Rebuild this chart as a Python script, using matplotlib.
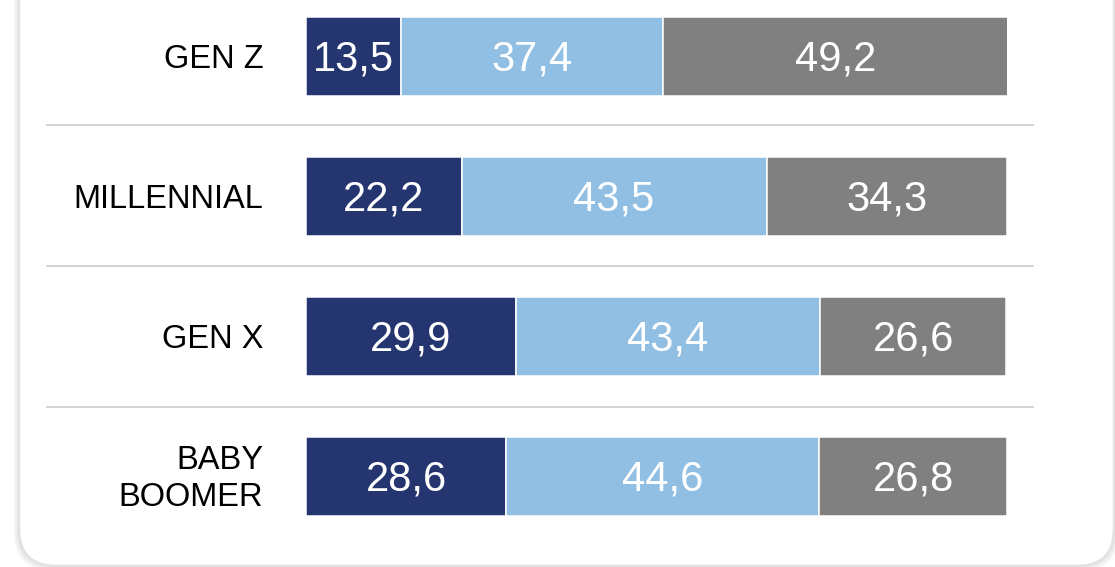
import numpy as np
import matplotlib.pyplot as plt
from matplotlib.patches import FancyBboxPatch

# data
groups = ['GEN Z', 'MILLENNIAL', 'GEN X', 'BABY\nBOOMER']
seg1 = [13.5, 22.2, 29.9, 28.6]
seg2 = [37.4, 43.5, 43.4, 44.6]
seg3 = [49.2, 34.3, 26.6, 26.8]
colors = ['#24356f', '#91bfe3', '#808080']

plt.rcParams['font.family'] = ['Liberation Sans', 'DejaVu Sans']

W, H = 1115, 567
fig = plt.figure(figsize=(W / 100, H / 100), dpi=100)
fig.patch.set_facecolor('white')

# background card with soft shadow, drawn in pixel units
bg = fig.add_axes([0, 0, 1, 1], zorder=0)
bg.set_xlim(0, W)
bg.set_ylim(0, H)
bg.axis('off')
for k in range(6):
    bg.add_patch(FancyBboxPatch((20 - k * 0.5, 2 - k * 0.5), 1093 + k * 1.0, 640,
                                boxstyle='round,pad=0,rounding_size=36',
                                facecolor='none', edgecolor='#000000',
                                alpha=0.025, linewidth=1 + k))
bg.add_patch(FancyBboxPatch((20, 2), 1093, 640,
                            boxstyle='round,pad=0,rounding_size=36',
                            facecolor='white', edgecolor='#ececec', linewidth=0.5))

# main chart axes: x 0..100 maps to pixels 306..1007
ax = fig.add_axes([306 / W, 0, 701 / W, 1], zorder=1)
ax.patch.set_alpha(0)
y = np.arange(len(groups))
bar_h = 79 / 140
left = np.zeros(len(groups))
for vals, c in zip([seg1, seg2, seg3], colors):
    vals = np.array(vals)
    ax.barh(y, vals, left=left, height=bar_h, color=c, edgecolor='white', linewidth=1.1)
    for yi, l, v in zip(y, left, vals):
        ax.text(l + v / 2, yi + 0.02, f'{v:.1f}'.replace('.', ','), ha='center', va='center',
                color='white', fontsize=30)
    left = left + vals

for yi, g in zip(y, groups):
    ax.text(-6.1, yi + 0.02, g, ha='right', va='center', fontsize=23.5, color='#000000',
            linespacing=1.25)

for s in [0.49, 1.495, 2.505]:
    ax.plot([-36.9, 103.7], [s, s], color='#cccccc', linewidth=1.2, clip_on=False)

ax.set_xlim(0, 100)
ax.set_ylim((567 - 56.5) / 140, -56.5 / 140)
ax.axis('off')

fig.savefig('out.png', dpi=100)
